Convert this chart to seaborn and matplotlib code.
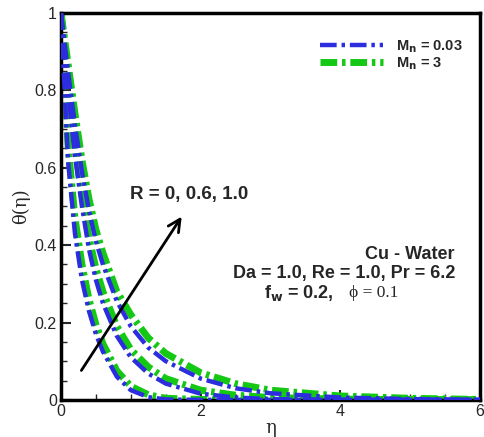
import matplotlib
matplotlib.use("Agg")
import matplotlib.pyplot as plt
import seaborn as sns
import numpy as np
from matplotlib.ticker import MultipleLocator, FuncFormatter

# eta grid
eta = [0, 0.1, 0.2, 0.3, 0.4, 0.5, 0.6, 0.8, 1.0, 1.25, 1.5, 2.0, 2.5, 3.0, 4.0, 5.0, 6.0]

# Mn = 3 (green), R = 0, 0.6, 1.0
theta_g_r0 = [1, 0.66, 0.47, 0.35, 0.26, 0.195, 0.145, 0.075, 0.035, 0.013, 0.004, 0.001, 0, 0, 0, 0, 0]
theta_g_r06 = [1, 0.82, 0.66, 0.53, 0.42, 0.34, 0.28, 0.19, 0.13, 0.085, 0.055, 0.025, 0.012, 0.006, 0.002, 0.0005, 0]
theta_g_r1 = [1, 0.87, 0.74, 0.62, 0.52, 0.44, 0.38, 0.28, 0.22, 0.16, 0.12, 0.07, 0.042, 0.025, 0.01, 0.004, 0.001]

# Mn = 0.03 (blue)
theta_b_r0 = [1, 0.62, 0.43, 0.31, 0.23, 0.17, 0.125, 0.06, 0.025, 0.007, 0.001, 0, 0, 0, 0, 0, 0]
theta_b_r06 = [1, 0.80, 0.63, 0.50, 0.39, 0.31, 0.25, 0.165, 0.11, 0.068, 0.042, 0.016, 0.006, 0.002, 0, 0, 0]
theta_b_r1 = [1, 0.85, 0.71, 0.59, 0.49, 0.41, 0.35, 0.255, 0.19, 0.135, 0.10, 0.055, 0.03, 0.017, 0.006, 0.002, 0]

blue = "#2d2de0"
green = "#14c814"

sns.set_style("ticks")
plt.rcParams["font.family"] = ["Liberation Sans", "DejaVu Sans"]
plt.rcParams["lines.scale_dashes"] = False

fig = plt.figure(figsize=(4.84, 4.37), dpi=100)
ax = fig.add_axes([0.126, 0.085, 0.866, 0.885])

dash = (0, (12, 3.5, 2.5, 3.5))

# green first (thicker), blue on top
for i, th in enumerate([theta_g_r0, theta_g_r06, theta_g_r1]):
    sns.lineplot(x=eta, y=th, ax=ax, color=green, lw=5, linestyle=dash,
                 label="M$_\\mathbf{n}$ = 3" if i == 0 else None, zorder=2)
for i, th in enumerate([theta_b_r0, theta_b_r06, theta_b_r1]):
    sns.lineplot(x=eta, y=th, ax=ax, color=blue, lw=3.2, linestyle=dash,
                 label="M$_\\mathbf{n}$ = 0.03" if i == 0 else None, zorder=3)

ax.set_xlim(0, 6)
ax.set_ylim(0, 1)
ax.xaxis.set_major_locator(MultipleLocator(2))
ax.xaxis.set_minor_locator(MultipleLocator(0.5))
ax.yaxis.set_major_locator(MultipleLocator(0.2))
ax.yaxis.set_minor_locator(MultipleLocator(0.05))
ax.xaxis.set_major_formatter(FuncFormatter(lambda v, p: f"{v:g}"))
ax.yaxis.set_major_formatter(FuncFormatter(lambda v, p: f"{v:g}"))
ax.tick_params(which="major", direction="in", length=7, width=1.5, labelsize=11.5, pad=3)
ax.tick_params(which="minor", direction="in", length=4, width=1)
for s in ax.spines.values():
    s.set_linewidth(2.5)
    s.set_color("black")

ax.set_xlabel("η", family="DejaVu Serif", fontsize=13, labelpad=0)
ax.set_ylabel("θ(η)", family="DejaVu Serif", fontsize=13, labelpad=3)

# legend order: blue then green
h, l = ax.get_legend_handles_labels()
order = [1, 0]
ax.legend([h[k] for k in order], [l[k] for k in order], loc="upper right",
          bbox_to_anchor=(0.99, 0.97), frameon=False, handlelength=4.3,
          handletextpad=0.9, labelspacing=0.05, prop={"weight": "bold", "size": 10.5})

ax.annotate("", xy=(1.75, 0.48), xytext=(0.27, 0.07),
            arrowprops=dict(arrowstyle="->", lw=2, color="black", mutation_scale=22))
ax.text(1.83, 0.53, "R = 0, 0.6, 1.0", fontsize=13.5, weight="bold", ha="center", va="center")

ax.text(5.64, 0.375, "Cu - Water", fontsize=13, weight="bold", ha="right", va="center")
ax.text(5.64, 0.328, "Da = 1.0, Re = 1.0, Pr = 6.2", fontsize=13, weight="bold", ha="right", va="center")
ax.text(2.91, 0.277, "f$_\\mathbf{w}$ = 0.2,", fontsize=13, weight="bold", ha="left", va="center")
ax.text(4.13, 0.277, "ϕ = 0.1", fontsize=12.5, family="Liberation Serif", ha="left", va="center")

fig.savefig("out.png", dpi=100)
